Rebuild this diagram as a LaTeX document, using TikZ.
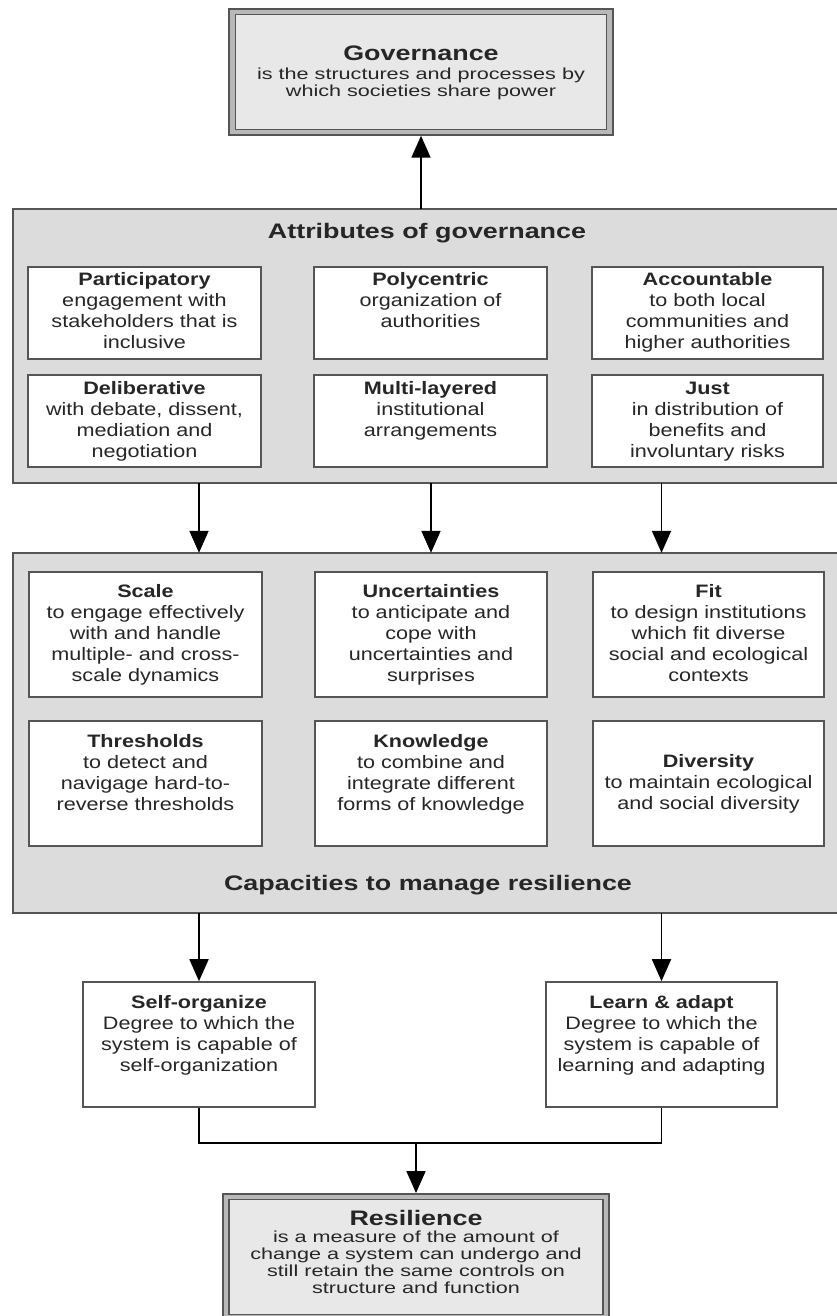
\documentclass[tikz,border=0pt]{standalone}
\usepackage{fontspec}
\setmainfont{Liberation Sans}
\newfontfamily\bodyf[FakeStretch=1.2]{Liberation Sans}
\newfontfamily\smallf[FakeStretch=1.35]{Liberation Sans}
\newfontfamily\titlef[FakeStretch=1.28]{Liberation Sans}
\usetikzlibrary{arrows.meta,calc}
\definecolor{bigfill}{HTML}{DCDCDC}
\definecolor{endfill}{HTML}{E8E8E8}
\definecolor{edge}{HTML}{555555}
\definecolor{band}{HTML}{B8B8B8}
\definecolor{ink}{HTML}{262626}
\tikzset{
  cell/.style={draw=edge, line width=1.6pt, fill=white, inner sep=0pt},
  bigbox/.style={fill=bigfill, inner sep=0pt},
  bigedge/.style={draw=edge, line width=1.6pt},
  outerbox/.style={draw=edge, line width=1.5pt, fill=band, inner sep=0pt},
  innerbox/.style={draw=edge, line width=1.5pt, fill=endfill, inner sep=0pt},
  txt/.style={align=center, inner sep=0pt, text=ink, font=\bodyf\fontsize{18}{21}\selectfont},
  endtxt/.style={align=center, inner sep=0pt, text=ink, font=\smallf\fontsize{16}{17}\selectfont},
  headtxt/.style={inner sep=0pt, text=ink, font=\titlef\bfseries\fontsize{21}{24}\selectfont},
  arr/.style={draw=black, line width=1.8pt, -{Triangle[width=19pt,length=22pt]}},
  link/.style={draw=black, line width=1.8pt}
}
\begin{document}
\begin{tikzpicture}[x=1pt,y=-1pt]
\useasboundingbox (0,0) rectangle (837,1316);
\clip (0,0) rectangle (837,1316);
\fill[white] (0,0) rectangle (837,1316);

% Governance
\node[outerbox, minimum width=384pt, minimum height=126pt] (gov) at (421,72) {};
\node[innerbox, minimum width=371pt, minimum height=115pt] (govin) at (gov.center) {};
\node[endtxt, anchor=north] (govt) at (421,45.5)
  {{\titlef\bfseries\fontsize{21}{22}\selectfont Governance}\\[2pt]
   is the structures and processes by\\which societies share power};

% Attributes of governance
\node[bigbox, minimum width=824pt, minimum height=274pt] (attr) at (425,346) {};
\draw[bigedge] (attr.north east) -- (attr.north west) -- (attr.south west) -- (attr.south east);
\node[headtxt] (attrt) at (427,233) {Attributes of governance};

\node[cell, minimum width=233pt, minimum height=92pt] (a1) at (144.5,313) {};
\node[cell, minimum width=233pt, minimum height=92pt] (a2) at (430.5,313) {};
\node[cell, minimum width=231pt, minimum height=92pt] (a3) at (707.5,313) {};
\node[cell, minimum width=233pt, minimum height=92pt] (a4) at (144.5,421) {};
\node[cell, minimum width=233pt, minimum height=92pt] (a5) at (430.5,421) {};
\node[cell, minimum width=231pt, minimum height=92pt] (a6) at (707.5,421) {};

\node[txt, anchor=north] (a1t) at (a1.center |- 0,272.5) {\textbf{Participatory}\\engagement with\\stakeholders that is\\inclusive};
\node[txt, anchor=north] (a2t) at (a2.center |- 0,272.5) {\textbf{Polycentric}\\organization of\\authorities};
\node[txt, anchor=north] (a3t) at (a3.center |- 0,272.5) {\textbf{Accountable}\\to both local\\communities and\\higher authorities};
\node[txt, anchor=north] (a4t) at (a4.center |- 0,381.5) {\textbf{Deliberative}\\with debate, dissent,\\mediation and\\negotiation};
\node[txt, anchor=north] (a5t) at (a5.center |- 0,381.5) {\textbf{Multi-layered}\\institutional\\arrangements};
\node[txt, anchor=north] (a6t) at (a6.center |- 0,381.5) {\textbf{Just}\\in distribution of\\benefits and\\involuntary risks};

% Capacities to manage resilience
\node[bigbox, minimum width=824pt, minimum height=360pt] (cap) at (425,733) {};
\draw[bigedge] (cap.north east) -- (cap.north west) -- (cap.south west) -- (cap.south east);
\node[headtxt] (capt) at (428,885) {Capacities to manage resilience};

\node[cell, minimum width=233pt, minimum height=125pt] (c1) at (145.5,634.5) {};
\node[cell, minimum width=232pt, minimum height=125pt] (c2) at (431,634.5) {};
\node[cell, minimum width=231pt, minimum height=125pt] (c3) at (708.5,634.5) {};
\node[cell, minimum width=233pt, minimum height=125pt] (c4) at (145.5,783.5) {};
\node[cell, minimum width=232pt, minimum height=125pt] (c5) at (431,783.5) {};
\node[cell, minimum width=231pt, minimum height=125pt] (c6) at (708.5,783.5) {};

\node[txt, anchor=north] (c1t) at (c1.center |- 0,584.5) {\textbf{Scale}\\to engage effectively\\with and handle\\multiple- and cross-\\scale dynamics};
\node[txt, anchor=north] (c2t) at (c2.center |- 0,584.5) {\textbf{Uncertainties}\\to anticipate and\\cope with\\uncertainties and\\surprises};
\node[txt, anchor=north] (c3t) at (c3.center |- 0,584.5) {\textbf{Fit}\\to design institutions\\which fit diverse\\social and ecological\\contexts};
\node[txt, anchor=north] (c4t) at (c4.center |- 0,734.5) {\textbf{Thresholds}\\to detect and\\navigage hard-to-\\reverse thresholds};
\node[txt, anchor=north] (c5t) at (c5.center |- 0,734.5) {\textbf{Knowledge}\\to combine and\\integrate different\\forms of knowledge};
\node[txt, anchor=north] (c6t) at (c6.center |- 0,754.5) {\textbf{Diversity}\\to maintain ecological\\and social diversity};

% Self-organize / Learn & adapt
\node[cell, minimum width=232pt, minimum height=125pt] (so) at (199,1044.5) {};
\node[cell, minimum width=231pt, minimum height=125pt] (la) at (661.5,1044.5) {};
\node[txt, anchor=north] (sot) at (so.center |- 0,995.5) {\textbf{Self-organize}\\Degree to which the\\system is capable of\\self-organization};
\node[txt, anchor=north] (lat) at (la.center |- 0,995.5) {\textbf{Learn \& adapt}\\Degree to which the\\system is capable of\\learning and adapting};

% Resilience
\node[outerbox, minimum width=386pt, minimum height=134pt, anchor=north] (res) at (416,1193) {};
\node[innerbox, minimum width=374pt, minimum height=115pt, anchor=north] (resin) at (416,1198.5) {};
\node[endtxt, anchor=north] (rest) at (416,1210.5)
  {{\titlef\bfseries\fontsize{21}{22}\selectfont Resilience}\\[0pt]
   is a measure of the amount of\\change a system can undergo and\\still retain the same controls on\\structure and function};

% connectors
\draw[arr] (attr.north -| gov.south) -- (gov.south);
\draw[arr] (attr.south -| so.north) -- (cap.north -| so.north);
\draw[arr] (attr.south -| c2.north) -- (cap.north -| c2.north);
\draw[arr] (attr.south -| la.north) -- (cap.north -| la.north);
\draw[arr] (cap.south -| so.north) -- (so.north);
\draw[arr] (cap.south -| la.north) -- (la.north);
\coordinate (j) at ($(so.south)+(0,35)$);
\draw[link] (so.south) -- (j) -| (la.south);
\draw[arr] (j -| res.north) -- (res.north);
\end{tikzpicture}
\end{document}
